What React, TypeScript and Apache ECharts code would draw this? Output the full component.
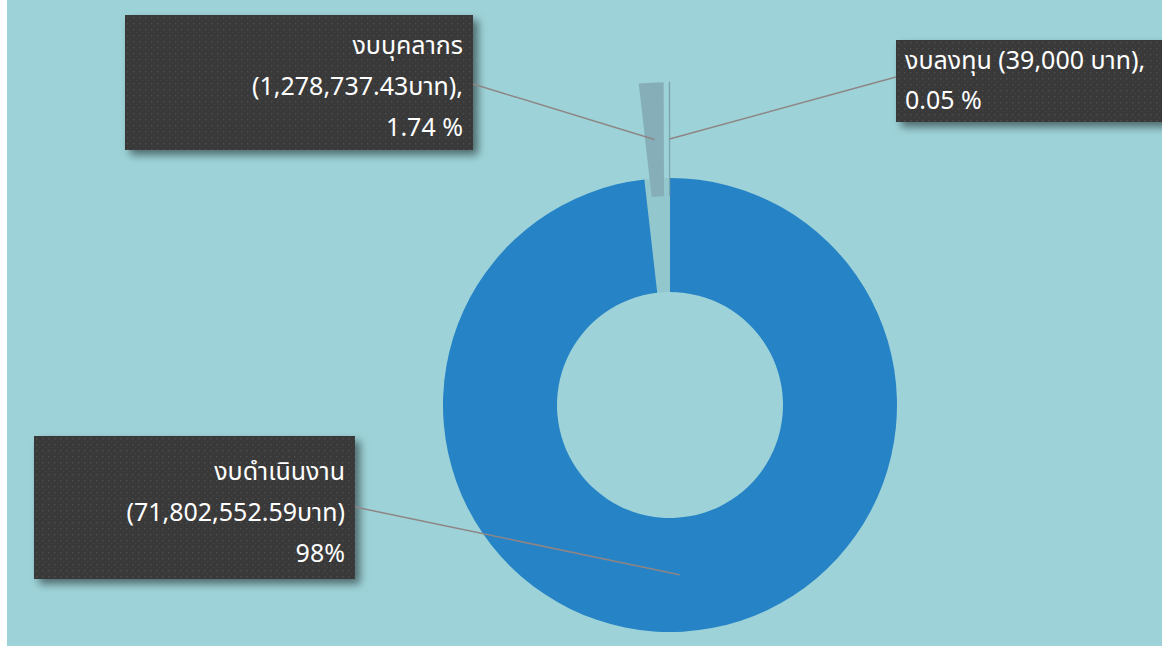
import React, { useEffect, useRef } from 'react';
import * as echarts from 'echarts';

// ---- data ----
const categories = ['งบดำเนินงาน', 'งบบุคลากร', 'งบลงทุน'];
const values = [71802552.59, 1278737.43, 39000];
const amountTexts = ['71,802,552.59', '1,278,737.43', '39,000'];
const percentTexts = ['98%', '1.74 %', '0.05 %'];
const labelTemplates = ['{n}\n({a}บาท)\n{p}', '{n}\n({a}บาท),\n{p}', '{n} ({a} บาท),\n{p}'];
const explodedIndices = [1, 2];

// ---- styles / layout ----
const BG = '#9dd3d8';
const sliceColors = ['#2683c6', '#86aeb8', '#7b9fa8'];
const gapTint = 'rgba(40,90,100,0.09)';
const BOX = '#3b3b3b';
const LINE = '#8e8585';
const FONT = "Tahoma, 'Noto Sans Thai', 'Noto Sans', 'DejaVu Sans', sans-serif";
const CX = 663;
const CY = 405;
const R_IN = 113;
const R_OUT = 227;
const EXPLODE = 96;

type Box = {
  x: number; y: number; align: 'left' | 'right'; w: number; h: number;
  padding: number[]; lineHeight: number; lineFrom: number[];
};
const boxes: Box[] = [
  { x: 348, y: 436, align: 'right', w: 321, h: 143, padding: [15, 10, 5, 10], lineHeight: 41, lineFrom: [348, 507] },
  { x: 466, y: 15, align: 'right', w: 348, h: 135, padding: [10, 10, 2, 10], lineHeight: 41, lineFrom: [466, 84] },
  { x: 889, y: 40, align: 'left', w: 300, h: 82, padding: [1, 10, 1, 9], lineHeight: 40, lineFrom: [889, 77] },
];

const total = values.reduce((a, b) => a + b, 0);
function dirOf(i: number): number[] {
  let cum = 0;
  for (let k = 0; k < i; k++) cum += values[k];
  const th = (2 * Math.PI * (cum + values[i] / 2)) / total;
  return [Math.sin(th), -Math.cos(th)];
}
const isExploded = (i: number) => explodedIndices.indexOf(i) >= 0;
const labelFor = (i: number) =>
  labelTemplates[i].replace('{n}', categories[i]).replace('{a}', amountTexts[i]).replace('{p}', percentTexts[i]);

function makePattern(w: number, h: number): string {
  const c = document.createElement('canvas');
  c.width = w;
  c.height = h;
  const ctx = c.getContext('2d');
  if (!ctx) return '';
  ctx.fillStyle = '#393939';
  ctx.fillRect(0, 0, w, h);
  ctx.fillStyle = '#4d4d4d';
  for (let y = 2; y < h; y += 6) {
    for (let x = 2; x < w; x += 6) ctx.fillRect(x, y, 1.5, 1.5);
  }
  ctx.fillStyle = '#444444';
  for (let y = 5; y < h; y += 6) {
    for (let x = 5; x < w; x += 6) ctx.fillRect(x, y, 1.2, 1.2);
  }
  return c.toDataURL();
}

export default function App() {
  const ref = useRef<HTMLDivElement>(null);
  useEffect(() => {
    if (!ref.current) return;
    const chart = echarts.init(ref.current, undefined, { renderer: 'svg' });
    const patterns = boxes.map((b) => makePattern(b.w, b.h));

    const labelOpt = (i: number, shadowTwin: boolean) => {
      const b = boxes[i];
      const base: any = {
        show: true,
        position: 'outside',
        formatter: labelFor(i),
        color: shadowTwin ? 'rgba(0,0,0,0)' : '#ffffff',
        fontSize: 25,
        fontFamily: FONT,
        lineHeight: b.lineHeight,
        width: b.w - b.padding[1] - b.padding[3],
        height: b.h - b.padding[0] - b.padding[2],
        align: b.align,
        overflow: 'none',
        padding: b.padding,
      };
      if (shadowTwin) {
        base.backgroundColor = BOX;
        base.shadowColor = 'rgba(0,0,0,0.5)';
        base.shadowBlur = 8;
        base.shadowOffsetX = 5;
        base.shadowOffsetY = 5;
      } else {
        base.backgroundColor = { image: patterns[i] };
      }
      return base;
    };

    const layout = (params: any) => {
      const b = boxes[params.dataIndex];
      return { x: b.x, y: b.y, align: b.align, verticalAlign: 'top' };
    };

    // owner: index of the slice drawn by this series (-1 => main ring)
    const buildSeries = (owner: number, shadowTwin: boolean) => {
      const d = owner >= 0 ? dirOf(owner) : [0, 0];
      const off = owner >= 0 ? EXPLODE : 0;
      return {
        type: 'pie',
        z: shadowTwin ? 1 : 2,
        radius: [R_IN, R_OUT],
        center: [CX + d[0] * off, CY + d[1] * off],
        startAngle: 90,
        clockwise: true,
        avoidLabelOverlap: false,
        silent: true,
        emphasis: { disabled: true },
        labelLayout: layout,
        data: values.map((v, i) => {
          const own = owner >= 0 ? i === owner : !isExploded(i);
          let color = 'rgba(0,0,0,0)';
          if (!shadowTwin) {
            if (own) color = sliceColors[i];
            else if (owner < 0) color = gapTint;
          }
          return {
            name: categories[i],
            value: v,
            itemStyle:
              !shadowTwin && own && i === 2
                ? { color, borderColor: color, borderWidth: 0.6 }
                : { color },
            label: own ? labelOpt(i, shadowTwin) : { show: false },
            labelLine: { show: false },
          };
        }),
      };
    };

    const owners = [-1, ...explodedIndices];
    const series = [
      ...owners.map((o) => buildSeries(o, true)),
      ...owners.map((o) => buildSeries(o, false)),
    ];

    // leader lines: from label box to the middle of the ring of each slice
    const leaderLines = values.map((_, i) => {
      const b = boxes[i];
      const d = dirOf(i);
      const r = (R_IN + R_OUT) / 2 + (isExploded(i) ? EXPLODE : 0);
      return {
        type: 'line',
        z: 100,
        silent: true,
        shape: { x1: b.lineFrom[0], y1: b.lineFrom[1], x2: CX + d[0] * r, y2: CY + d[1] * r },
        style: { stroke: LINE, lineWidth: 1.5 },
      };
    });

    chart.setOption({
      animation: false,
      backgroundColor: BG,
      graphic: leaderLines,
      series,
    });
    return () => chart.dispose();
  }, []);

  return (
    <div
      ref={ref}
      style={{ position: 'fixed', left: 7, top: 0, width: 1155, height: 646, background: BG }}
    />
  );
}
